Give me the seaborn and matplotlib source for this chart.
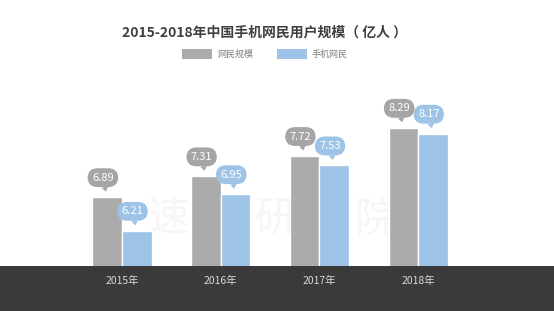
import matplotlib
matplotlib.use("Agg")
import matplotlib.pyplot as plt
import seaborn as sns
import pandas as pd
from matplotlib.patches import Rectangle

years = ["2015年", "2016年", "2017年", "2018年"]
series_names = ["网民规模", "手机网民"]
netizens = [6.89, 7.31, 7.72, 8.29]
mobile = [6.21, 6.95, 7.53, 8.17]
title = "2015-2018年中国手机网民用户规模（ 亿人 ）"

colors = ["#ABABAB", "#9DC3E6"]
bubble_colors = ["#A5A5A5", "#9DC3E6"]

df = pd.DataFrame({
    "year": years * 2,
    "series": [series_names[0]] * 4 + [series_names[1]] * 4,
    "value": netizens + mobile,
})

sns.set_theme(style="white")
plt.rcParams["font.family"] = ["Noto Sans CJK SC", "DejaVu Sans"]

W, H = 554, 311
fig = plt.figure(figsize=(W / 100, H / 100), dpi=100)
fig.patch.set_facecolor("white")

# dark band at bottom
band = Rectangle((0, 0), 1, 1 - 266 / H, transform=fig.transFigure,
                 facecolor="#3A3A3A", edgecolor="none", zorder=-5)
fig.patches.append(band)

ax = fig.add_axes([72.5 / W, 1 - 266 / H, 395 / W, 166 / H])
ax.set_facecolor("none")

# faint watermark characters
for ch, xp in [("速", 168), ("研", 275), ("院", 376)]:
    fig.text(xp / W, 1 - 220 / H, ch, fontsize=30, color="#F6F6F6",
             ha="center", va="center", zorder=-4)

sns.barplot(data=df, x="year", y="value", hue="series", palette=colors,
            width=0.6, ax=ax, legend=False, zorder=2, saturation=1)

ax.set_ylim(5.5, 8.85)
ax.set_xlim(-0.5, 3.5)
for s in ax.spines.values():
    s.set_visible(False)
ax.set_yticks([])
ax.set_xlabel("")
ax.set_ylabel("")
ax.tick_params(axis="x", length=0, pad=7, labelsize=7.5, labelcolor="#D9D9D9")

for ci, cont in enumerate(ax.containers):
    for bar in cont:
        x = bar.get_x() + bar.get_width() / 2
        h = bar.get_height()
        ax.annotate(f"{h:.2f}", xy=(x, h), xytext=(-3, 14), textcoords="offset points",
                    ha="center", va="center", fontsize=8, color="white",
                    bbox=dict(boxstyle="round,pad=0.4,rounding_size=0.9",
                              fc=bubble_colors[ci], ec="none"),
                    arrowprops=dict(arrowstyle="wedge,tail_width=0.6,shrink_factor=0.5",
                                    fc=bubble_colors[ci], ec="none",
                                    shrinkA=0, shrinkB=4),
                    zorder=3)

fig.text(265 / W, 1 - 32 / H, title, fontsize=10, fontweight="bold",
         color="#404040", ha="center", va="center")

handles = [Rectangle((0, 0), 1, 1, fc=c, ec="none") for c in colors]
fig.legend(handles, series_names, loc="center", bbox_to_anchor=(265 / W, 1 - 54 / H),
           ncol=2, frameon=False, fontsize=6.5, labelcolor="#7F7F7F",
           handlelength=3.3, handleheight=1.4, columnspacing=2.6, handletextpad=0.6)

fig.savefig("out.png", dpi=100, facecolor="white")
